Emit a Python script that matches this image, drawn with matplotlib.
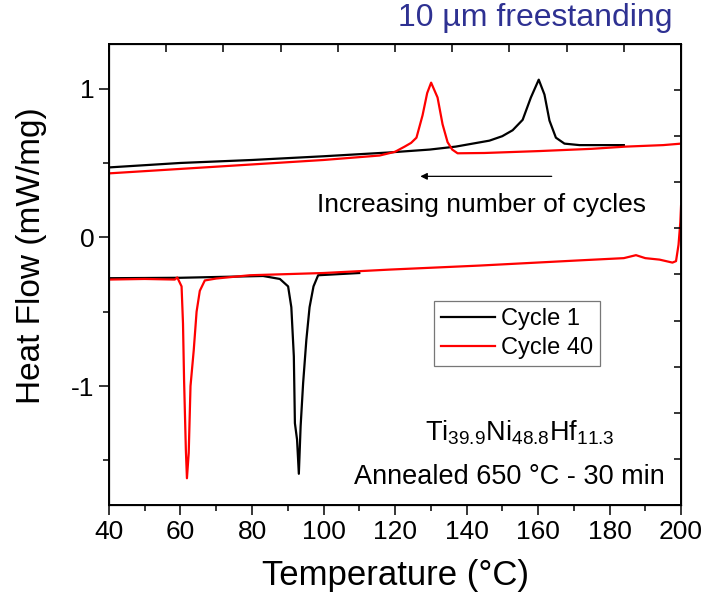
import numpy as np
import matplotlib
matplotlib.use('Agg')
import matplotlib.pyplot as plt
import matplotlib as mpl

plt.rcParams['font.family'] = ['Liberation Sans', 'DejaVu Sans']
plt.rcParams['mathtext.fontset'] = 'custom'
plt.rcParams['mathtext.rm'] = 'Liberation Sans'

# heating branch (upper curves)
c1_heat_T = [40, 60, 80, 100, 118, 129.7, 137, 146.4, 150, 152.9, 155.7, 158, 160.2,
             161.8, 163.2, 165, 167.4, 171.6, 180, 184]
c1_heat = [0.47, 0.50, 0.52, 0.545, 0.57, 0.59, 0.61, 0.65, 0.68, 0.72, 0.79, 0.94, 1.06,
           0.96, 0.785, 0.67, 0.63, 0.62, 0.62, 0.62]
c40_heat_T = [40, 60, 80, 100, 115.7, 120, 122.7, 124.5, 126, 127.7, 129, 130.1, 131.9,
              133.3, 134.7, 136, 137.5, 145, 160.4, 175, 184.6, 195, 200]
c40_heat = [0.43, 0.46, 0.49, 0.52, 0.55, 0.575, 0.61, 0.635, 0.67, 0.82, 0.97, 1.04, 0.94,
            0.76, 0.64, 0.59, 0.565, 0.567, 0.58, 0.595, 0.61, 0.62, 0.63]

# cooling branch (lower curves)
c1_cool_T = [40, 60, 83.1, 87.8, 90.1, 91, 91.7, 92, 92.6, 93.1, 93.6, 94.3, 95.2, 96.1,
             97.2, 98.5, 110]
c1_cool = [-0.275, -0.272, -0.26, -0.28, -0.33, -0.47, -0.80, -1.25, -1.36, -1.59, -1.27,
           -0.98, -0.69, -0.47, -0.33, -0.255, -0.24]
c40_cool_T = [40, 50, 58.4, 59.1, 60.3, 60.7, 61, 61.5, 61.8, 62.3, 62.8, 63.7, 64.5, 65.4,
              66.8, 70, 79.4, 100, 118.5, 143.6, 171.6, 184, 187.4, 190, 194, 197.6, 198.6,
              199.3, 199.8, 200]
c40_cool = [-0.284, -0.28, -0.284, -0.27, -0.33, -0.58, -0.96, -1.43, -1.62, -1.45, -1.0,
            -0.76, -0.50, -0.36, -0.29, -0.277, -0.255, -0.24, -0.217, -0.19, -0.155, -0.14,
            -0.12, -0.14, -0.15, -0.17, -0.16, -0.05, 0.10, 0.21]

fig = plt.figure(figsize=(7.05, 6.0), dpi=100)
ax = fig.add_axes([0.1546, 0.1583, 0.8114, 0.7684])

ax.plot(c1_heat_T, c1_heat, color='black', lw=1.6, label='Cycle 1')
ax.plot(c40_heat_T, c40_heat, color='red', lw=1.6, label='Cycle 40')
ax.plot(c1_cool_T, c1_cool, color='black', lw=1.6)
ax.plot(c40_cool_T, c40_cool, color='red', lw=1.6)

ax.set_xlim(40, 200)
ax.set_ylim(-1.8, 1.3)
ax.xaxis.set_major_locator(mpl.ticker.MultipleLocator(20))
ax.xaxis.set_minor_locator(mpl.ticker.MultipleLocator(10))
ax.yaxis.set_major_locator(mpl.ticker.MultipleLocator(1))
ax.yaxis.set_minor_locator(mpl.ticker.MultipleLocator(0.5))
ax.tick_params(which='major', direction='out', length=7, width=1.1, labelsize=19)
ax.tick_params(which='minor', direction='out', length=4, width=1.1)
ax.yaxis.set_major_formatter(mpl.ticker.FormatStrFormatter('%g'))
for s in ax.spines.values():
    s.set_linewidth(1.4)

ax.set_xlabel('Temperature (°C)', fontsize=25, labelpad=11)
ax.set_ylabel('Heat Flow (mW/mg)', fontsize=24)
ax.yaxis.set_label_coords(-0.108, 0.542)

# unlabeled top / right ticks, 10 equal divisions
axt = ax.twiny()
axt.set_xlim(0, 10)
axt.set_xticks(range(11))
axt.tick_params(axis='x', direction='in', length=6, width=1.1, labeltop=False)
axr = ax.twinx()
axr.set_ylim(0, 10)
axr.set_yticks(range(11))
axr.tick_params(axis='y', direction='in', length=5, width=1.1, labelright=False)

ax.annotate('', xy=(126.3, 0.41), xytext=(164.6, 0.41),
            arrowprops=dict(arrowstyle='-|>', color='black', lw=0.9,
                            mutation_scale=10))
ax.text(144.2, 0.215, 'Increasing number of cycles', fontsize=19, ha='center', va='center')

leg = ax.legend(loc='upper left', bbox_to_anchor=(0.568, 0.4425), fontsize=17,
                frameon=True, fancybox=False, handlelength=2.3, borderpad=0.3,
                labelspacing=0.3, handletextpad=0.25, borderaxespad=0)
leg.get_frame().set_edgecolor('#555555')
leg.get_frame().set_linewidth(0.9)

ax.text(155, -1.315, r'Ti$_{39.9}$Ni$_{48.8}$Hf$_{11.3}$', fontsize=19.5, ha='center',
        va='center')
ax.text(152, -1.61, 'Annealed 650 °C - 30 min', fontsize=19.5, ha='center', va='center')

fig.text(0.759, 0.970, '10 µm freestanding', fontsize=23, color='#2e3192',
         ha='center', va='center')

fig.savefig('out.png', dpi=100)
